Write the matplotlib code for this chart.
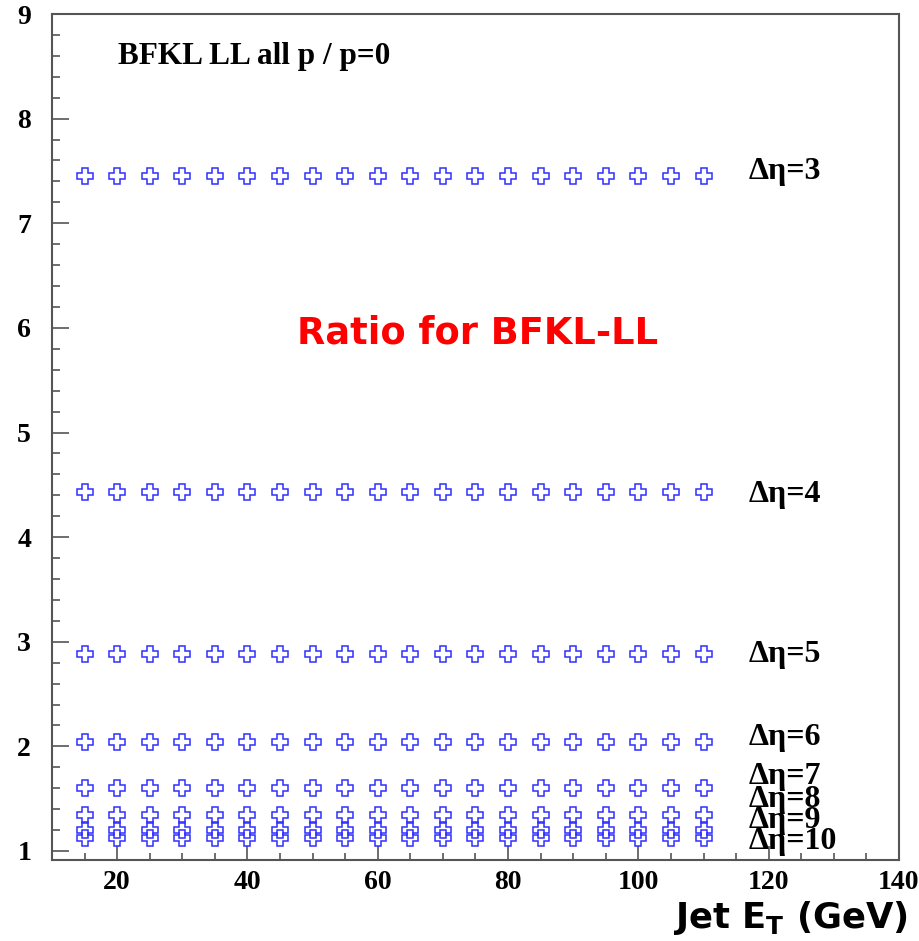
import matplotlib
matplotlib.use("Agg")
import matplotlib.pyplot as plt
from matplotlib.ticker import MultipleLocator

# jet E_T bins (GeV)
et = [15, 20, 25, 30, 35, 40, 45, 50, 55, 60, 65, 70, 75, 80, 85, 90, 95, 100, 105, 110]

# BFKL LL ratio (all p / p=0), one flat curve per rapidity gap
deta = [3, 4, 5, 6, 7, 8, 9, 10]
ratio = [7.45, 4.43, 2.88, 2.04, 1.60, 1.34, 1.20, 1.12]
label_y = [7.49, 4.41, 2.88, 2.08, 1.71, 1.49, 1.29, 1.09]

serif = ["Liberation Serif", "DejaVu Serif"]
gray = "#555555"

fig = plt.figure(figsize=(9.19, 9.41), dpi=100)
ax = fig.add_axes([0.0566, 0.0861, 0.9216, 0.8990])

for d, r in zip(deta, ratio):
    ax.plot(et, [r] * len(et), linestyle="none", marker="P", markersize=11.5,
            markerfacecolor="none", markeredgecolor="#2f2fff", markeredgewidth=1.1)

for d, ly in zip(deta, label_y):
    ax.text(117.0, ly, "\u0394\u03b7=%d" % d, family=serif, fontweight="bold",
            fontsize=23, va="center", ha="left")

ax.text(20.1, 8.59, "BFKL LL all p / p=0", family=serif, fontweight="bold",
        fontsize=22.5, va="center", ha="left")
ax.text(0.503, 0.623, "Ratio for BFKL-LL", transform=ax.transAxes, color="red",
        fontweight="bold", fontsize=26.5, ha="center", va="center")
fig.text(0.988, 0.004, r"Jet E$_{\mathregular{T}}$ (GeV)", fontweight="bold",
         fontsize=25.5, ha="right", va="bottom")

ax.set_xlim(10, 140)
ax.set_ylim(0.914, 9)
ax.xaxis.set_major_locator(MultipleLocator(20))
ax.xaxis.set_minor_locator(MultipleLocator(5))
ax.yaxis.set_major_locator(MultipleLocator(1))
ax.yaxis.set_minor_locator(MultipleLocator(0.2))

ax.tick_params(axis="x", which="major", direction="in", length=10, width=1.2,
               color=gray, pad=7, top=False)
ax.tick_params(axis="x", which="minor", direction="in", length=5, width=1.2,
               color=gray, top=False)
ax.tick_params(axis="y", which="major", direction="in", length=12, width=1.2,
               color=gray, pad=15, right=False)
ax.tick_params(axis="y", which="minor", direction="in", length=6, width=1.2,
               color=gray, right=False)

for lab in ax.get_xticklabels() + ax.get_yticklabels():
    lab.set_family(serif)
    lab.set_fontweight("bold")
    lab.set_fontsize(20)

for sp in ax.spines.values():
    sp.set_color(gray)
    sp.set_linewidth(1.5)

fig.savefig("out.png", dpi=100)
